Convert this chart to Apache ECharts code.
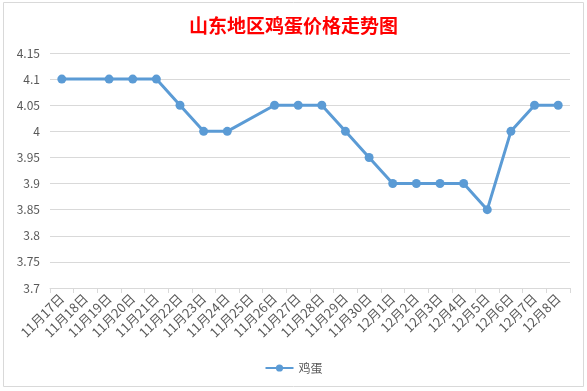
<!DOCTYPE html>
<html>
<head>
<meta charset="utf-8">
<script src="https://cdn.jsdelivr.net/npm/echarts@6/dist/echarts.min.js"></script>
<style>html,body{margin:0;padding:0;background:#fff}#c{width:587px;height:391px}</style>
</head>
<body>
<div id="c"></div>
<script>
var categories = ['11月17日','11月18日','11月19日','11月20日','11月21日','11月22日','11月23日','11月24日','11月25日','11月26日','11月27日','11月28日','11月29日','11月30日','12月1日','12月2日','12月3日','12月4日','12月5日','12月6日','12月7日','12月8日'];
var eggPrices = [4.1, null, 4.1, 4.1, 4.1, 4.05, 4.0, 4.0, null, 4.05, 4.05, 4.05, 4.0, 3.95, 3.9, 3.9, 3.9, 3.9, 3.85, 4.0, 4.05, 4.05];
var seriesName = '鸡蛋';
var titleText = '山东地区鸡蛋价格走势图';

var chart = echarts.init(document.getElementById('c'));
chart.setOption({
  animation: false,
  textStyle: {fontFamily: '"Noto Sans CJK SC", "Noto Sans", sans-serif'},
  title: {
    text: titleText, left: 'center', top: 11,
    textStyle: {color: '#ff0000', fontSize: 19, fontWeight: 'bold', fontFamily: '"Noto Sans CJK SC", sans-serif'}
  },
  legend: {
    bottom: 12, left: 'center', itemWidth: 28, itemHeight: 9, itemGap: 10,
    textStyle: {color: '#595959', fontSize: 12},
    data: [seriesName]
  },
  graphic: [{
    type: 'rect', shape: {x: 3.5, y: 2.5, width: 580, height: 384},
    style: {fill: 'none', stroke: '#d9d9d9', lineWidth: 1}, silent: true, z: -1
  }],
  grid: {left: 50, right: 17, top: 53, bottom: 103},
  xAxis: {
    type: 'category', data: categories, boundaryGap: true,
    axisLine: {lineStyle: {color: '#d9d9d9'}},
    axisTick: {show: true, alignWithLabel: false, length: 5, lineStyle: {color: '#d9d9d9'}},
    axisLabel: {rotate: 45, interval: 0, color: '#595959', fontSize: 13, margin: 8}
  },
  yAxis: {
    type: 'value', min: 3.7, max: 4.15, interval: 0.05,
    axisLine: {show: false}, axisTick: {show: false},
    splitLine: {lineStyle: {color: '#d9d9d9'}},
    axisLabel: {color: '#595959', fontSize: 12, margin: 10,
      formatter: function (v) { return String(parseFloat(v.toFixed(2))); }}
  },
  series: [{
    name: seriesName, type: 'line', data: eggPrices, connectNulls: true,
    symbol: 'circle', symbolSize: 9,
    lineStyle: {color: '#5b9bd5', width: 3},
    itemStyle: {color: '#5b9bd5'}
  }]
});
</script>
</body>
</html>
